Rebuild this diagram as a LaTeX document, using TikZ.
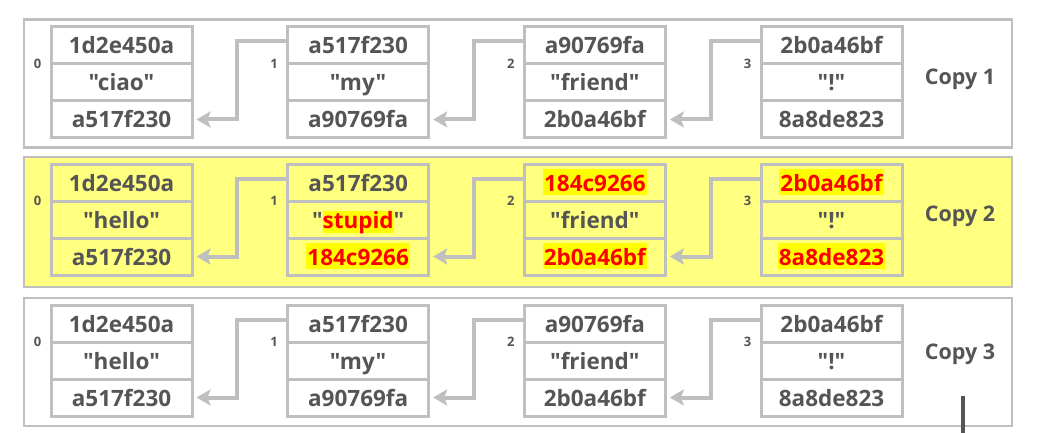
\documentclass[tikz,border=0pt]{standalone}
\usepackage{fontspec}
\setmainfont{Open Sans}[Ligatures=TeXOff]
\usetikzlibrary{arrows.meta}
\definecolor{txt}{HTML}{555555}
\definecolor{edge}{HTML}{BFBFBF}
\definecolor{pale}{HTML}{FFFF80}
\definecolor{hlbg}{HTML}{FFFF00}
\definecolor{hlfg}{HTML}{FF0000}
\newcommand{\hlbox}[1]{{\setlength{\fboxsep}{1pt}\colorbox{hlbg}{\rule[-3pt]{0pt}{24pt}\color{hlfg}#1}}}
\newcommand{\hlword}[1]{{\setlength{\fboxsep}{0pt}\colorbox{hlbg}{\color{hlfg}#1}}}
\newcommand{\memcell}[6]{%
  \node[cell] (m#1#2a) at ({121.5+236.67*#2},{#3+18.5}) {#4};
  \node[cell] (m#1#2b) at ({121.5+236.67*#2},{#3+55.5}) {#5};
  \node[cell] (m#1#2c) at ({121.5+236.67*#2},{#3+92.5}) {#6};
  \node[idx] (i#1#2) at ({37.5+236.67*#2},{#3+37}) {#2};
}
\newcommand{\memlink}[3]{%
  \draw[link] ([yshift=4pt]m#1#2a.west) -- ++(-49,0) |- (m#1#3c.east);
}
\begin{document}
\begin{tikzpicture}[x=1pt,y=-1pt,
  cell/.style={draw=edge,line width=3pt,minimum width=141pt,minimum height=37pt,
    inner sep=0pt,text=txt,text height=17pt,text depth=0pt,
    font=\fontsize{22.5}{26}\selectfont\bfseries},
  idx/.style={text=txt,inner sep=0pt,font=\fontsize{13}{15}\selectfont\bfseries},
  frame/.style={draw=edge,line width=2.5pt,minimum width=988pt,inner sep=0pt},
  title/.style={text=txt,inner sep=0pt,anchor=base,font=\fontsize{21.5}{25}\selectfont\bfseries},
  link/.style={draw=edge,line width=4pt,shorten >=3pt,
    -{Stealth[length=14pt,width=16pt,inset=3pt]}}]
\useasboundingbox[fill=white] (0,0) rectangle (1044,433);
% frames
\node[frame,minimum height=128pt,fill=white] (f1) at (518,83.5) {};
\node[frame,minimum height=130pt,fill=pale] (f2) at (518,222) {};
\node[frame,minimum height=128pt,fill=white] (f3) at (518,362) {};
% copy 1
\memcell{1}{0}{27}{1d2e450a}{"ciao"}{a517f230}
\memcell{1}{1}{27}{a517f230}{"my"}{a90769fa}
\memcell{1}{2}{27}{a90769fa}{"friend"}{2b0a46bf}
\memcell{1}{3}{27}{2b0a46bf}{"!"}{8a8de823}
\memlink{1}{1}{0}
\memlink{1}{2}{1}
\memlink{1}{3}{2}
\node[title] (t1) at (960,85) {Copy 1};
% copy 2
\memcell{2}{0}{164}{1d2e450a}{"hello"}{a517f230}
\memcell{2}{1}{164}{a517f230}{"\hlword{stupid}"}{\hlbox{184c9266}}
\memcell{2}{2}{164}{\hlbox{184c9266}}{"friend"}{\hlbox{2b0a46bf}}
\memcell{2}{3}{164}{\hlbox{2b0a46bf}}{"!"}{\hlbox{8a8de823}}
\memlink{2}{1}{0}
\memlink{2}{2}{1}
\memlink{2}{3}{2}
\node[title] (t2) at (960,221) {Copy 2};
% copy 3
\memcell{3}{0}{305}{1d2e450a}{"hello"}{a517f230}
\memcell{3}{1}{305}{a517f230}{"my"}{a90769fa}
\memcell{3}{2}{305}{a90769fa}{"friend"}{2b0a46bf}
\memcell{3}{3}{305}{2b0a46bf}{"!"}{8a8de823}
\memlink{3}{1}{0}
\memlink{3}{2}{1}
\memlink{3}{3}{2}
\node[title] (t3) at (960,359) {Copy 3};
% cursor mark
\coordinate (cura) at (963,396);
\coordinate (curb) at (963,433);
\draw[txt,line width=4pt] (cura) -- (curb);
\end{tikzpicture}
\end{document}
